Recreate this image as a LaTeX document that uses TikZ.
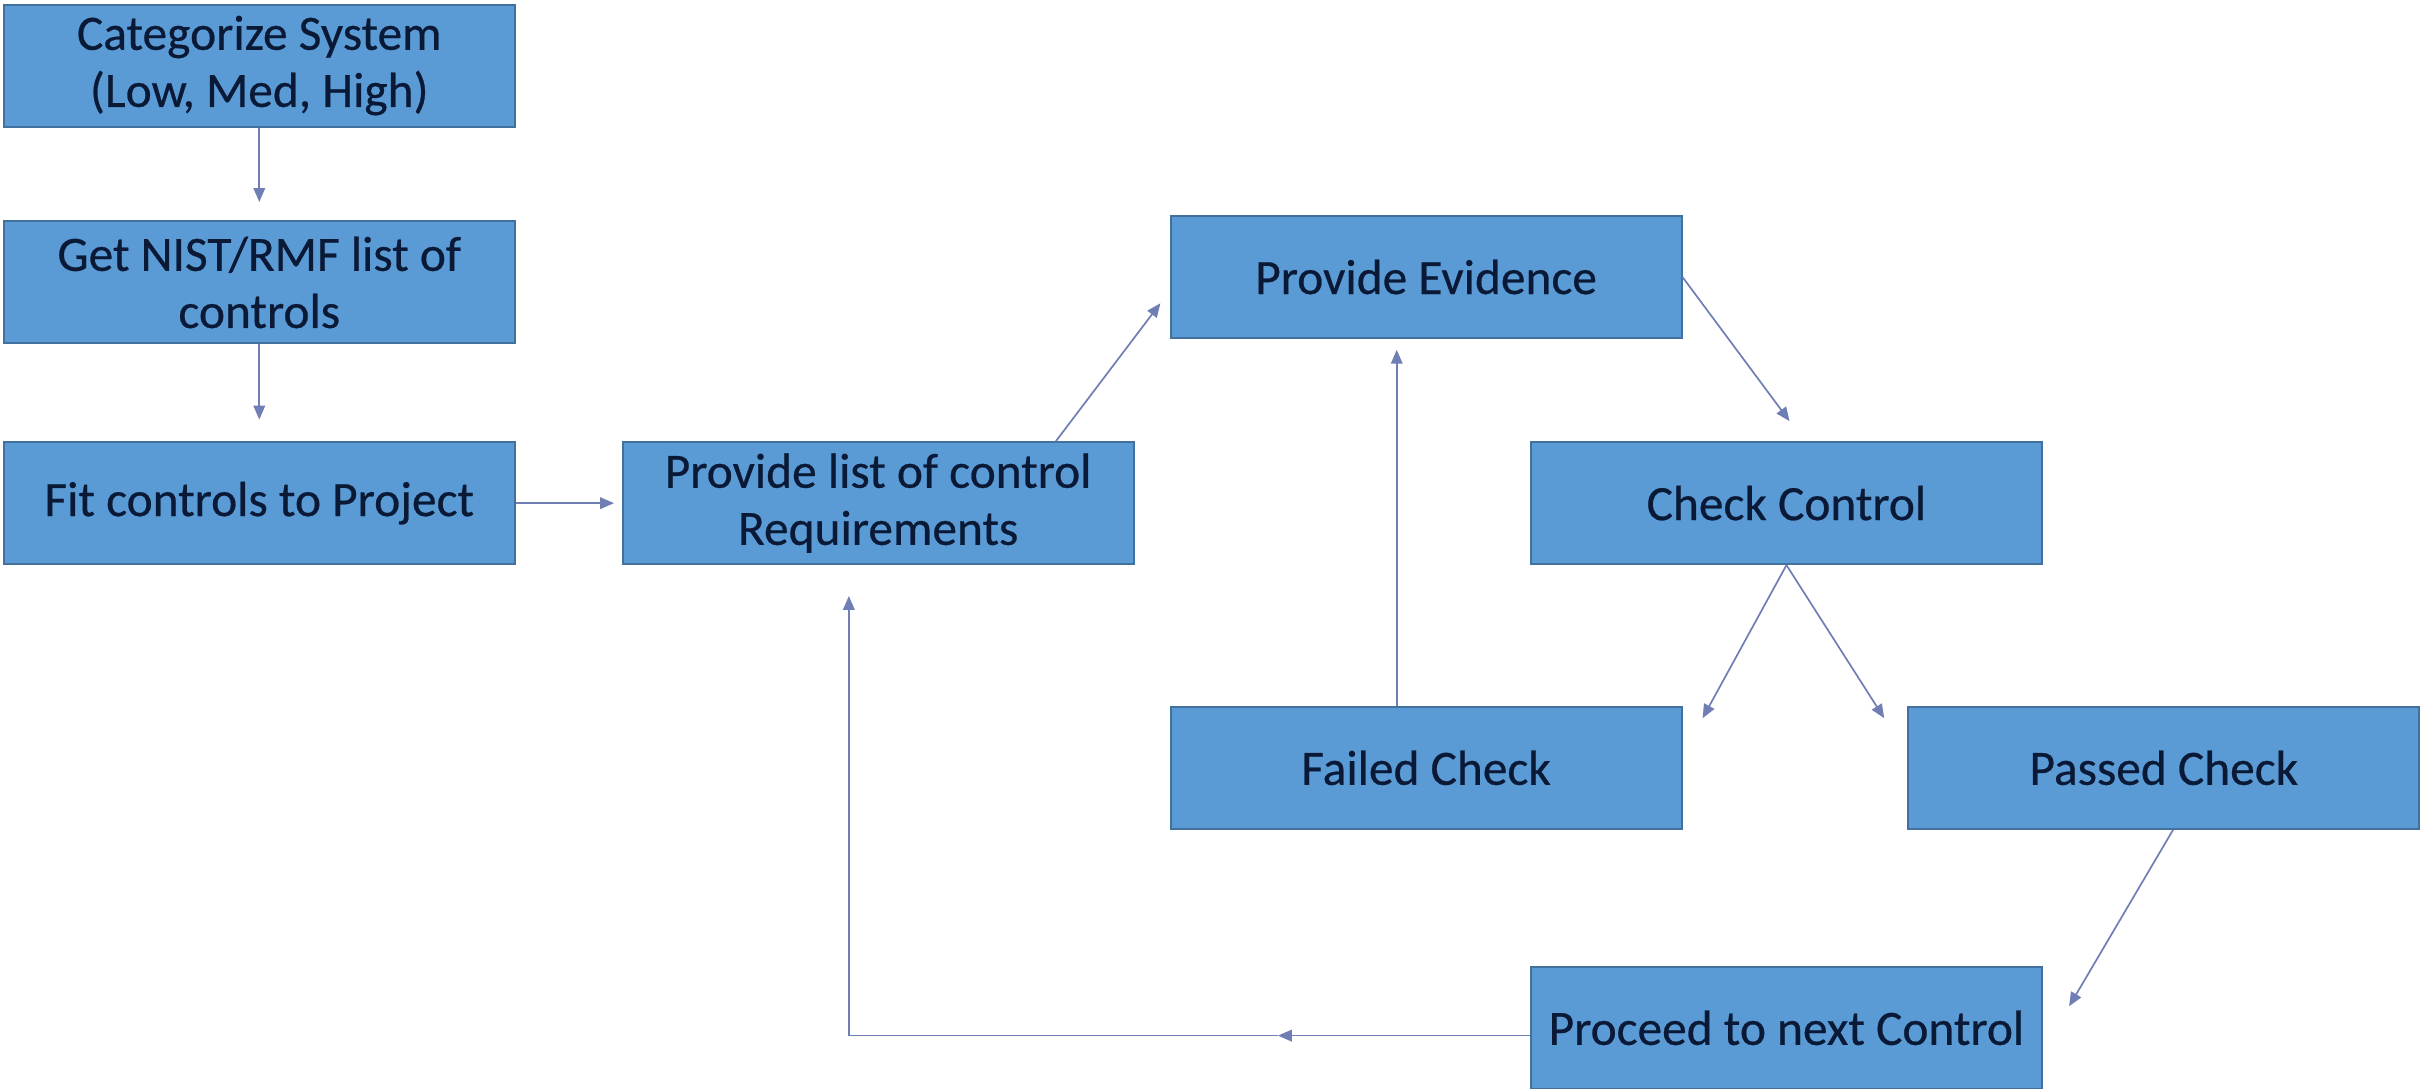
\documentclass[tikz,border=0pt]{standalone}
\usepackage{fontspec}
\setmainfont{Carlito}
\newfontfamily\boxfont[FakeBold=0.5]{Carlito}
\usetikzlibrary{arrows.meta,calc}
\definecolor{boxfill}{HTML}{5B9BD5}
\definecolor{boxline}{HTML}{41719C}
\definecolor{txtcol}{HTML}{0A1A36}
\definecolor{arrcol}{HTML}{6F7EB4}
\begin{document}
\begin{tikzpicture}[x=1pt,y=-1pt,
  box/.style={draw=boxline, fill=boxfill, line width=1.3pt, text=txtcol,
    font=\boxfont\fontsize{32}{37}\selectfont, align=center,
    minimum width=331pt, minimum height=79pt, inner sep=0pt},
  arr/.style={draw=arrcol, line width=1.1pt, -{Triangle[length=9pt,width=7.5pt]}}]
\useasboundingbox (0,0) rectangle (1568,705);
\node[box] (A) at (168,42.5) {Categorize System\\(Low, Med, High)};
\node[box] (B) at (168,183) {Get NIST/RMF list of\\controls};
\node[box] (C) at (168,326) {Fit controls to Project};
\node[box] (D) at (569,326) {Provide list of control\\Requirements};
\node[box] (E) at (924,179.5) {Provide Evidence};
\node[box] (F) at (1157.5,326) {Check Control};
\node[box] (G) at (924,497.5) {Failed Check};
\node[box] (H) at (1402,497.5) {Passed Check};
\node[box] (I) at (1157.5,666) {Proceed to next Control};
\coordinate (m) at (828,671);
\draw[arr] (A.south) -- ($(B.north)+(0,-12)$);
\draw[arr] (B.south) -- ($(C.north)+(0,-14)$);
\draw[arr] (C.east) -- ($(D.west)+(-5,0)$);
\draw[arr] ($(D.north east)+(-51,0)$) -- ($(E.west)+(-6,17)$);
\draw[arr] (E.east) -- ($(F.north)+(2,-13)$);
\draw[arr] (F.south) -- ($(G.north east)+(13,8)$);
\draw[arr] (F.south) -- ($(H.north west)+(-15,8)$);
\draw[arr] ($(G.north)+(-19,0)$) -- ($(E.south)+(-19,7)$);
\draw[arr] ($(H.south)+(6,0)$) -- ($(I.east)+(17,-14)$);
\draw[arr] ($(I.west)+(0,5)$) -- (m);
\draw[arr] (m) -| ($(D.south)+(-19,20)$);
\end{tikzpicture}
\end{document}
